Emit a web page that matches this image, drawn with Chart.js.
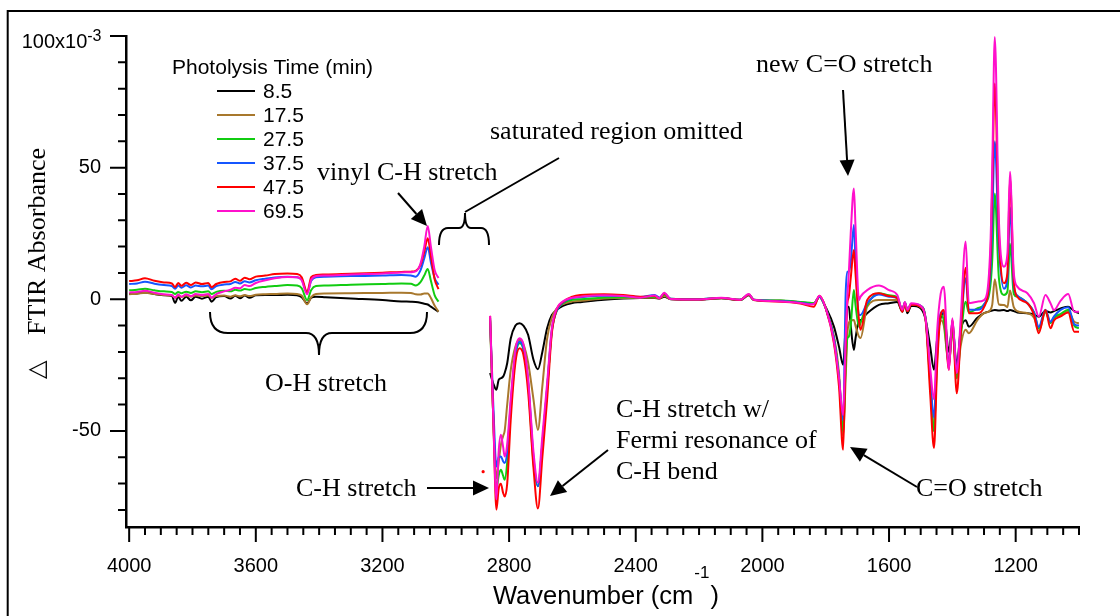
<!DOCTYPE html>
<html>
<head>
<meta charset="utf-8">
<script src="https://cdn.jsdelivr.net/npm/chart.js@4.4.1/dist/chart.umd.min.js"></script>
<style>
  html, body { margin: 0; padding: 0; background: #fff; }
</style>
</head>
<body>
<canvas id="ftir" width="1120" height="616"></canvas>
<script>
// wavenumber grid (cm-1); 2940 is a null point so the saturated C-H region stays empty
const wavenumbers = [
  4000, 3975, 3950, 3920, 3890, 3865, 3855, 3845, 3835, 3820, 3805, 3790, 3770, 3750, 3740,
  3725, 3700, 3680, 3665, 3650, 3635, 3620, 3600, 3570, 3540, 3500, 3470, 3455, 3438, 3425,
  3410, 3380, 3300, 3200, 3140, 3110, 3095, 3080, 3068, 3057, 3047, 3035, 3023,
  2940,
  2860, 2850, 2840, 2833, 2826, 2819, 2814, 2806, 2795, 2780, 2767, 2755, 2740, 2723, 2709,
  2695, 2680, 2665, 2650, 2630, 2600,
  2575, 2500, 2440, 2386, 2340, 2325, 2310, 2290, 2200, 2130, 2070, 2043, 2027, 1943, 1880,
  1850, 1837, 1820, 1800, 1774, 1758, 1745, 1737, 1732, 1727, 1721, 1711, 1706, 1695, 1690,
  1669, 1632, 1600, 1574, 1558, 1550, 1542, 1530, 1500, 1484, 1470, 1458, 1448, 1437, 1427,
  1411, 1400, 1386, 1374, 1358, 1348, 1321, 1300, 1280, 1274, 1266, 1253, 1237, 1226, 1218,
  1206, 1195, 1163, 1142, 1127, 1106, 1090, 1079, 1058, 1034, 1015, 1000
];

// absorbance change (x10^-3) for each photolysis time
const abs8_5 = [
  2.0, 2.2, 2.6, 2.0, 1.5, 1.2, -1.4, 1.0, -0.6, 1.0, -0.4, 1.0, 0.2, 1.0, -0.9,
  0.8, 1.2, 0.3, 1.3, 0.4, 1.4, 0.6, 1.5, 1.6, 1.6, 1.7, 1.5, 0.8, -1.5, 0.6,
  1.0, 0.8, 0.3, -0.3, -0.8, -0.9, -1.0, -1.3, -1.7, -2.0, -2.8, -3.8, -4.7,
  null,
  -28, -32, -34.4, -30.6, -30.0, -29.4, -28.0, -24.3, -15, -10, -9.1, -10, -13.5, -23, -26.6,
  -20, -11, -6, -4.1, -2.5, -1.4,
  -1.1, -0.2, 0.3, 0.5, 0.5, 0.3, 1.0, 0.0, -0.2, 0.4, -0.3, 1.5, -0.3, -0.6, -1.2,
  -1.5, -1.5, 1.0, -3.0, -10.4, -18, -24.9, -10, -3, -2.8, -10, -19.2, -15, -8, -7.9,
  -5.3, -2.1, -1.5, -1.0, -4.7, -1.5, -5.3, -2.5, -3.5, -7.9, -18, -26.8, -15, -7, -5,
  -20, -10, -25, -12, -8, -10.4, -7, -5.3, -4.5, -4.3, -4.1, -4.3, -4.1, -4.5, -4.1,
  -4.5, -5, -5.3, -5.8, -6.6, -4.5, -5, -4.5, -3.5, -2.8, -4.5, -5.3
];
const abs17_5 = [
  1.9, 2.1, 2.5, 2.0, 1.6, 1.4, 0.6, 1.3, 0.9, 1.4, 1.0, 1.4, 1.2, 1.4, 0.6,
  1.2, 1.4, 1.0, 1.5, 1.1, 1.6, 1.2, 1.7, 1.9, 2.0, 2.2, 2.0, 1.4, -1.9, 0.8,
  2.0, 2.2, 2.3, 2.4, 2.5, 2.4, 1.9, 1.8, 2.2, 2.2, 0.5, -2.5, -4.7,
  null,
  -8, -45, -68, -62, -55.3, -52, -50, -40, -27, -18, -15.4, -17, -24, -38, -49.6,
  -33, -15, -7, -3.5, -1.8, -0.8,
  -0.6, 0.3, 0.5, 0.6, 0.6, 0.4, 1.2, 0.1, -0.1, 0.4, -0.2, 1.6, -0.2, -0.6, -1.2,
  -1.5, -1.5, 1.0, -3.4, -14, -28, -52, -30, -14, -9, -8, -7.9, -10, -14.2, -14.7,
  -2.8, -0.3, -0.3, -0.3, -4.0, -1.5, -4.5, -2.0, -3.0, -7.9, -30, -50, -20, -8, -10,
  -25, -12, -30, -18, -11.6, -12.9, -7.9, -5.3, -4.1, -2, 7.6, -2, -2.2, -3, 3.3,
  -3, -4.5, -5.3, -7, -12, -5, -9, -7, -6, -4.5, -8.5, -9.1
];
const abs27_5 = [
  3.4, 3.6, 4.0, 3.4, 3.0, 2.8, 2.0, 2.8, 2.3, 2.9, 2.4, 3.0, 2.7, 3.0, 2.0,
  2.8, 3.2, 3.0, 3.6, 3.3, 3.9, 3.6, 4.3, 4.7, 5.0, 5.4, 5.2, 4.2, -0.3, 3.5,
  5.0, 5.2, 5.5, 5.8, 6.0, 5.9, 5.2, 6.5, 9.0, 11.5, 7.0, 1.5, -0.9,
  null,
  -8, -45, -72.3, -67, -64.8, -67, -68.6, -62, -42, -22, -16.7, -19, -32, -62, -71,
  -55, -34, -12, -4.5, -1.5, -0.2,
  0, 0.7, 0.8, 0.8, 1.0, 0.5, 1.8, 0.2, 0, 0.5, -0.2, 1.8, -0.2, -0.5, -1.0,
  -1.3, -1.5, 1.0, -3.4, -15, -30, -50, -25, -15, -14.2, -10, 3.5, -2, -10.4, -9,
  -2.1, 2.3, 1.5, 0.8, -4.0, -1.2, -4.0, -1.8, -2.5, -7.9, -32, -50, -22, -6, -8,
  -25, -10, -30, -15, -0.9, -5, -3.5, -2, 5, 15, 40.2, 8, 1.6, 3, 21.2,
  2, 1.0, -1.5, -5, -11, -4.5, -9, -7, -5.5, -4, -10, -11
];
const abs37_5 = [
  5.8, 6.0, 6.7, 5.9, 5.4, 5.0, 4.0, 5.2, 4.4, 5.3, 4.5, 5.2, 4.9, 5.2, 3.8,
  5.0, 5.6, 5.8, 6.6, 6.0, 6.8, 6.4, 7.2, 7.8, 8.3, 8.6, 8.4, 7.4, 2.5, 7.0,
  8.4, 8.6, 8.8, 9.0, 9.2, 9.0, 8.6, 11.0, 15.5, 19.8, 14.0, 8.0, 5.5,
  null,
  -7, -40, -63.5, -60, -59.7, -61.5, -62.2, -58, -40, -21, -16.1, -18.5, -31, -60, -71,
  -55, -34, -12, -4.5, -1.2, 0.5,
  0.8, 1.3, 1.2, 0.9, 1.6, 0.6, 2.2, 0.2, 0, 0.5, -0.2, 1.8, -0.2, -0.7, -1.3,
  -1.8, -1.8, 1.0, -3.4, -15, -30, -46, 2, 10.5, 10.5, 14, 28.2, 15, -6, -6,
  -1.5, 1.8, 1.0, 0.5, -4.0, -1.2, -4.0, -1.8, -2.5, -7.9, -30, -45, -18, -5, -5,
  -25, -8, -28, -12, 8, -4, -4, -2, 10, 30, 60, 20, 4, 8, 35,
  5, 1.5, -1.5, -5, -10.5, -4, -8.5, -6.5, -4, -3, -9.5, -10
];
const abs47_5 = [
  6.9, 7.2, 8.0, 7.0, 6.4, 6.0, 4.6, 6.2, 5.1, 6.3, 5.4, 6.4, 5.8, 6.2, 4.6,
  5.8, 6.6, 6.8, 7.8, 7.0, 8.2, 7.6, 8.6, 9.0, 9.6, 9.8, 9.6, 8.4, 2.7, 8.4,
  9.2, 9.4, 9.7, 10.1, 10.4, 10.5, 10.8, 13.0, 18.0, 23.2, 16.5, 7.5, 3.9,
  null,
  -6.3, -45, -79.9, -72, -70.1, -73.5, -74.9, -70, -46, -24, -18.6, -21, -35, -64, -79.5,
  -60, -38.2, -12.9, -4.1, -1.0, 1.0,
  1.6, 1.9, 1.6, 1.0, 1.2, 0.4, 2.2, 0.1, -0.1, 0.5, -0.3, 1.8, -0.3, -0.9, -1.6,
  -2.6, -2.8, 1.3, -3.4, -16.7, -33.2, -57.2, -20, -2, 1.0, 8, 18.7, 10, -7.9, -11.6,
  -0.3, 2.3, 1.2, 0.4, -4.7, -1.5, -4.5, -2.0, -2.8, -8.5, -36, -56.5, -25, -6, -4.1,
  -26.8, -7.9, -35.7, -14.2, 12, -5.3, -5.3, -3, 15, 42.7, 82, 25, 6.1, 10, 46,
  7, 1.0, -1.5, -6, -12.9, -4.1, -11, -8, -6.5, -5, -12.3, -12.3
];
const abs69_5 = [
  2.6, 2.8, 3.2, 2.5, 1.9, 1.6, 0.6, 1.8, 1.0, 1.9, 1.2, 2.0, 1.6, 2.0, 0.6,
  2.0, 3.0, 3.6, 4.4, 4.2, 5.4, 5.0, 6.2, 7.2, 8.0, 8.5, 8.4, 7.2, 1.9, 7.4,
  8.8, 9.0, 9.4, 9.8, 10.2, 10.3, 10.6, 13.5, 20.0, 27.8, 20.0, 11.0, 8.1,
  null,
  -6.3, -45, -76, -58, -51.5, -56, -59.7, -55, -38, -19, -14.8, -17, -30, -58, -69.6,
  -52, -32, -11, -3.6, -0.8, 0.6,
  1.0, 1.5, 1.2, 0.6, 1.4, 0.4, 2.5, 0.1, -0.1, 0.6, -0.2, 2.0, -0.2, -0.8, -1.4,
  -2.0, -1.8, 1.3, -3.4, -16, -30, -44, -15, 0, 10, 25, 42.1, 28, -0.3, 1.0,
  3.5, 5.2, 3.5, 1.6, -4.0, -1.0, -4.0, -1.5, -2.5, -7.9, -26, -38, -12, 2, 4.8,
  -26.8, -7.2, -28, -8, 21.9, -1.5, -0.9, -0.3, 20, 50, 99.6, 30.1, 12.4, 17.4, 48.4,
  10, 4.8, 2.3, -1.5, -6.6, 1.6, -1.5, -4.1, -0.5, 2.0, -4.7, -4.7
];
// lone red point left of the C-H band
const strayMark = [{ x: 2882, y: -65.5 }];

const seriesValues = [abs8_5, abs17_5, abs27_5, abs37_5, abs47_5, abs69_5];
const seriesLabels = ['8.5', '17.5', '27.5', '37.5', '47.5', '69.5'];
const seriesColors = ['#000000', '#A8782D', '#11CC11', '#1556FF', '#FF0000', '#FF10CC'];
const xTickLabels = [4000, 3600, 3200, 2800, 2400, 2000, 1600, 1200];
const yTickLabels = [100, 50, 0, -50];

const SANS = '"Liberation Sans", Arial, sans-serif';
const SERIF = '"Liberation Serif", "Times New Roman", serif';

const datasets = seriesValues.map((vals, i) => ({
  label: seriesLabels[i],
  data: wavenumbers.map((w, j) => ({ x: w, y: vals[j] })),
  borderColor: seriesColors[i],
  backgroundColor: seriesColors[i],
  borderWidth: 2,
  pointRadius: 0,
  cubicInterpolationMode: 'monotone',
  spanGaps: false,
  order: seriesValues.length - i
}));
datasets.push({
  type: 'scatter',
  label: '',
  data: strayMark,
  pointRadius: 1.6,
  pointBorderWidth: 0,
  backgroundColor: '#FF0000',
  order: 0
});

function arrow(ctx, x1, y1, x2, y2) {
  const a = Math.atan2(y2 - y1, x2 - x1), hl = 16, hw = 7.5;
  const bx = x2 - hl * Math.cos(a), by = y2 - hl * Math.sin(a);
  ctx.beginPath();
  ctx.moveTo(x1, y1);
  ctx.lineTo(bx, by);
  ctx.stroke();
  ctx.beginPath();
  ctx.moveTo(x2, y2);
  ctx.lineTo(bx + hw * Math.sin(a), by - hw * Math.cos(a));
  ctx.lineTo(bx - hw * Math.sin(a), by + hw * Math.cos(a));
  ctx.closePath();
  ctx.fill();
}

const decor = {
  id: 'decor',
  beforeDraw(chart) {
    const ctx = chart.ctx;
    ctx.save();
    ctx.fillStyle = '#fff';
    ctx.fillRect(0, 0, chart.width, chart.height);
    // outer frame
    ctx.strokeStyle = '#000';
    ctx.lineWidth = 2;
    ctx.beginPath();
    ctx.moveTo(7.7, chart.height);
    ctx.lineTo(7.7, 11);
    ctx.lineTo(chart.width, 11);
    ctx.stroke();
    ctx.restore();
  },
  afterDraw(chart) {
    const ctx = chart.ctx;
    const xs = chart.scales.x, ys = chart.scales.y;
    const area = chart.chartArea;
    ctx.save();
    ctx.strokeStyle = '#000';
    ctx.fillStyle = '#000';

    // tick marks, long on labelled values
    ctx.lineWidth = 2;
    ctx.beginPath();
    xs.ticks.forEach(t => {
      const px = xs.getPixelForValue(t.value);
      const len = t.value % 400 === 0 ? 15 : 8;
      ctx.moveTo(px, area.bottom);
      ctx.lineTo(px, area.bottom + len);
    });
    ys.ticks.forEach(t => {
      const py = ys.getPixelForValue(t.value);
      const len = t.value % 50 === 0 ? 16 : 8;
      ctx.moveTo(area.left, py);
      ctx.lineTo(area.left - len, py);
    });
    ctx.stroke();

    // top y label with exponent
    const yTop = ys.getPixelForValue(yTickLabels[0]);
    ctx.textBaseline = 'alphabetic';
    ctx.font = '16px ' + SANS;
    const supW = ctx.measureText('-3').width;
    ctx.textAlign = 'left';
    ctx.fillText('-3', 101.5 - supW, yTop + 5);
    ctx.font = '20px ' + SANS;
    ctx.textAlign = 'right';
    ctx.fillText(yTickLabels[0] + 'x10', 101.5 - supW, yTop + 12);

    // x axis title
    ctx.textAlign = 'left';
    ctx.font = '25.5px ' + SANS;
    let tx = 493;
    ctx.fillText('Wavenumber (cm', tx, 604);
    tx += ctx.measureText('Wavenumber (cm').width + 1;
    ctx.font = '17px ' + SANS;
    ctx.fillText('-1', tx, 578);
    tx += ctx.measureText('-1').width + 1;
    ctx.font = '25.5px ' + SANS;
    ctx.fillText(')', tx, 604);

    // y axis title
    ctx.save();
    ctx.translate(45, 335);
    ctx.rotate(-Math.PI / 2);
    ctx.font = '26px ' + SERIF;
    ctx.fillText('FTIR Absorbance', 0, 0);
    ctx.font = '24px "DejaVu Sans", sans-serif';
    ctx.fillText('\u25B3', -44, -1);
    ctx.restore();

    // legend
    ctx.font = '21px ' + SANS;
    ctx.fillText('Photolysis Time (min)', 172, 74);
    seriesLabels.forEach((lab, i) => {
      const y = 91 + i * 24;
      ctx.strokeStyle = seriesColors[i];
      ctx.lineWidth = 2;
      ctx.beginPath();
      ctx.moveTo(217, y);
      ctx.lineTo(255, y);
      ctx.stroke();
      ctx.fillStyle = '#000';
      ctx.fillText(lab, 263, y + 7);
    });

    // annotations
    ctx.strokeStyle = '#000';
    ctx.fillStyle = '#000';
    ctx.lineWidth = 2;
    ctx.font = '26px ' + SERIF;
    ctx.fillText('vinyl C-H stretch', 317, 180);
    ctx.fillText('saturated region omitted', 490, 139);
    ctx.fillText('new C=O stretch', 756, 72);
    ctx.fillText('O-H stretch', 265, 391);
    ctx.fillText('C-H stretch', 296, 496);
    ctx.fillText('C-H stretch w/', 616, 417);
    ctx.fillText('Fermi resonance of', 616, 448);
    ctx.fillText('C-H bend', 616, 479);
    ctx.fillText('C=O stretch', 916, 496);

    arrow(ctx, 398, 193, 427, 226);
    arrow(ctx, 843, 90, 848, 176);
    arrow(ctx, 427, 488, 489, 488);
    arrow(ctx, 608, 450, 550, 496);
    arrow(ctx, 917, 487, 850, 447);

    // brace over the omitted region and its leader
    ctx.beginPath();
    ctx.moveTo(439, 245);
    ctx.quadraticCurveTo(439, 228, 448, 228);
    ctx.lineTo(459, 228);
    ctx.quadraticCurveTo(465, 228, 465, 213);
    ctx.quadraticCurveTo(465, 228, 471, 228);
    ctx.lineTo(481, 228);
    ctx.quadraticCurveTo(489, 228, 489, 245);
    ctx.moveTo(465, 212);
    ctx.lineTo(559, 158);
    ctx.stroke();

    // brace under the O-H band
    ctx.beginPath();
    ctx.moveTo(210, 312);
    ctx.quadraticCurveTo(210, 333, 228, 333);
    ctx.lineTo(306, 333);
    ctx.quadraticCurveTo(319, 333, 319, 355);
    ctx.quadraticCurveTo(319, 333, 332, 333);
    ctx.lineTo(410, 333);
    ctx.quadraticCurveTo(427, 333, 427, 312);
    ctx.stroke();

    ctx.restore();
  }
};

new Chart(document.getElementById('ftir'), {
  type: 'line',
  data: { datasets: datasets },
  options: {
    responsive: false,
    animation: false,
    devicePixelRatio: 1,
    layout: { padding: { left: 0, top: 36, right: 41, bottom: 0 } },
    plugins: {
      legend: { display: false },
      tooltip: { enabled: false },
      title: { display: false }
    },
    scales: {
      x: {
        type: 'linear',
        reverse: true,
        min: 1000,
        max: 4010,
        afterBuildTicks: s => {
          const t = [];
          for (let v = 4000; v >= 1000; v -= 50) t.push({ value: v });
          s.ticks = t;
        },
        afterFit: s => { s.height = 89; },
        grid: { drawOnChartArea: false, drawTicks: true, tickLength: 15, color: 'rgba(0,0,0,0)' },
        border: { display: true, color: '#000', width: 2.5 },
        ticks: {
          autoSkip: false,
          maxRotation: 0,
          color: '#000',
          padding: 12,
          font: { family: SANS, size: 20 },
          callback: v => xTickLabels.includes(v) ? String(v) : ''
        }
      },
      y: {
        min: -86.5,
        max: 100,
        afterBuildTicks: s => {
          const t = [];
          for (let v = -80; v <= 100; v += 10) t.push({ value: v });
          s.ticks = t;
        },
        afterFit: s => { s.width = 126; },
        grid: { drawOnChartArea: false, drawTicks: true, tickLength: 15, color: 'rgba(0,0,0,0)' },
        border: { display: true, color: '#000', width: 2.5 },
        ticks: {
          autoSkip: false,
          color: '#000',
          padding: 10,
          font: { family: SANS, size: 20 },
          callback: v => (yTickLabels.includes(v) && v !== yTickLabels[0]) ? String(v) : ''
        }
      }
    }
  },
  plugins: [decor]
});
</script>
</body>
</html>
